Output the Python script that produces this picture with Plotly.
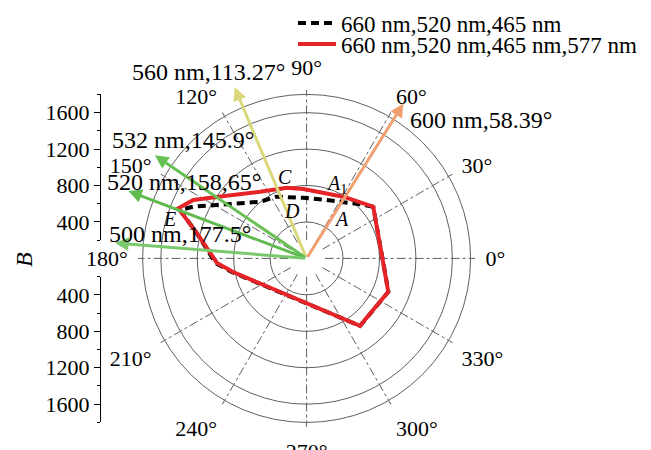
import numpy as np
import plotly.graph_objects as go

# ---------------- data ----------------
# black dashed gamut: 660 nm,520 nm,465 nm  (theta in degrees, r = B)
dash_theta = [37.8, 45.4, 71.0, 93.4, 115.9, 129.4, 145.9, 155.5, 159.1, 166.5, 183.0, 190.5, 308.4, 337.8, 37.8]
dash_r     = [926, 834, 678, 667, 753, 805, 1059, 1370, 1488, 1250, 1000, 830, 945, 970, 926]
# red solid gamut: 660 nm,520 nm,465 nm,577 nm
red_theta = [59.3, 37.8, 337.8, 308.4, 190.5, 182.9, 167.0, 158.7, 152.7, 141.9, 124.9, 105.7, 92.7, 59.3]
red_r     = [788, 926, 968, 943, 821, 985, 1235, 1512, 1399, 1115, 893, 806, 763, 788]

# wavelength direction arrows
arrow_names = ["560 nm,113.27°", "600 nm,58.39°", "532 nm,145.9°", "520 nm,158,65°", "500 nm,177.5°"]
arrow_theta = [112.8, 58.0, 145.8, 159.3, 175.4]
arrow_len   = [2040, 2005, 2014, 2091, 2108]
arrow_color = ["rgb(218,216,122)", "rgb(240,160,112)", "rgb(104,192,84)", "rgb(96,186,78)", "rgb(122,200,108)"]

legend_names = ["660 nm,520 nm,465 nm", "660 nm,520 nm,465 nm,577 nm"]
radial_major = [400, 800, 1200, 1600]
radial_minor = [200, 600, 1000, 1400]

# ---------------- layout geometry ----------------
W, H = 651, 450
CX, CY, R = 306.6, 258.4, 164.0
RMAX = 1800
K = R / RMAX  # px per unit
FONT = "Liberation Serif"

def px(x):
    return x / W

def py(y):
    return 1 - y / H

dom_x = [px(CX - R), px(CX + R)]
dom_y = [py(CY + R), py(CY - R)]

# cartesian overlay (same scale as polar) used for the arrows
XR = [-2200, 2200]
YR = [-1900, 2200]
cart_dom_x = [px(CX + XR[0] * K), px(CX + XR[1] * K)]
cart_dom_y = [py(CY - YR[0] * K), py(CY - YR[1] * K)]

fig = go.Figure()

# white centre disc (the grid does not reach the centre)
hole_t = np.linspace(0, 360, 73)
fig.add_trace(go.Scatterpolar(r=[200] * len(hole_t), theta=hole_t, mode="lines", fill="toself",
                              fillcolor="white", line=dict(width=0, color="white"),
                              subplot="polar2", showlegend=False, hoverinfo="skip"))

# gamut polygons
fig.add_trace(go.Scatterpolar(r=dash_r, theta=dash_theta, mode="lines", name=legend_names[0],
                              line=dict(color="black", width=4, dash="8px,5px"),
                              subplot="polar2", legend="legend"))
fig.add_trace(go.Scatterpolar(r=red_r, theta=red_theta, mode="lines", name=legend_names[1],
                              line=dict(color="rgb(230,36,40)", width=4),
                              subplot="polar2", legend="legend2"))
# label-only polar layer (needs a trace to exist)
fig.add_trace(go.Scatterpolar(r=[0], theta=[0], mode="markers", marker=dict(size=1, opacity=0),
                              subplot="polar3", showlegend=False, hoverinfo="skip"))

# left B axis (upper and lower halves)
fig.add_trace(go.Scatter(x=[0, 0], y=[200, 1800], mode="lines", line=dict(width=0),
                         showlegend=False, hoverinfo="skip", xaxis="x", yaxis="y"))
fig.add_trace(go.Scatter(x=[0, 0], y=[-1800, -200], mode="lines", line=dict(width=0),
                         showlegend=False, hoverinfo="skip", xaxis="x", yaxis="y2"))
# anchor trace for the arrow overlay
fig.add_trace(go.Scatter(x=[0], y=[0], mode="markers", marker=dict(size=1, opacity=0),
                         showlegend=False, hoverinfo="skip", xaxis="x3", yaxis="y3"))

tickfont = dict(family=FONT, size=22, color="black")
common_polar_radial = dict(range=[0, RMAX], showticklabels=False, ticks="", showline=False)
legend_common = dict(xanchor="left", yanchor="middle", bgcolor="rgba(0,0,0,0)",
                     font=dict(family=FONT, size=23, color="black"), itemwidth=38, borderwidth=0)

fig.update_layout(
    width=W, height=H,
    margin=dict(l=0, r=0, t=0, b=0),
    paper_bgcolor="white", plot_bgcolor="rgba(0,0,0,0)",
    font=dict(family=FONT, size=22, color="black"),
    polar=dict(
        domain=dict(x=dom_x, y=dom_y),
        bgcolor="white",
        radialaxis=dict(**common_polar_radial, tickvals=radial_minor, showgrid=True,
                        gridcolor="rgb(200,200,200)", griddash="dash", gridwidth=1),
        angularaxis=dict(tickmode="linear", tick0=0, dtick=15, showticklabels=False, ticks="",
                         showline=False, showgrid=True, gridcolor="rgb(200,200,200)",
                         griddash="dash", gridwidth=1),
    ),
    polar2=dict(
        domain=dict(x=dom_x, y=dom_y),
        bgcolor="rgba(0,0,0,0)",
        radialaxis=dict(**common_polar_radial, tickvals=radial_major, showgrid=True,
                        gridcolor="rgb(95,95,95)", gridwidth=1),
        angularaxis=dict(tickmode="linear", tick0=0, dtick=30,
                         showticklabels=False, ticks="outside", ticklen=4, tickcolor="rgb(95,95,95)",
                         showline=True, linecolor="rgb(95,95,95)", linewidth=1,
                         showgrid=True, gridcolor="rgb(95,95,95)", griddash="dashdot", gridwidth=1),
    ),
    polar3=dict(
        domain=dict(x=dom_x, y=dom_y),
        bgcolor="rgba(0,0,0,0)",
        radialaxis=dict(**common_polar_radial, showgrid=False),
        angularaxis=dict(tickmode="linear", tick0=0, dtick=30, ticksuffix="°",
                         showticklabels=True, ticks="outside", ticklen=10,
                         tickcolor="rgba(0,0,0,0)", showline=False, showgrid=False,
                         tickfont=tickfont),
    ),
    xaxis=dict(visible=False, domain=[0.98, 1.0], range=[-1, 1]),
    yaxis=dict(domain=[py(CY - R * 200 / RMAX), py(CY - R)], range=[200, 1800],
               anchor="free", position=px(100), side="left",
               tickvals=radial_major, ticks="outside", ticklen=6, tickcolor="black",
               showline=True, linecolor="black", linewidth=1, showgrid=False, zeroline=False,
               minor=dict(tickvals=[200, 600, 1000, 1400, 1800], ticks="outside", ticklen=3.5,
                          tickcolor="black", showgrid=False),
               tickfont=tickfont),
    yaxis2=dict(domain=[py(CY + R), py(CY + R * 200 / RMAX)], range=[-1800, -200],
                anchor="free", position=px(100), side="left",
                tickvals=[-v for v in radial_major], ticktext=[str(v) for v in radial_major],
                ticks="outside", ticklen=6, tickcolor="black",
                showline=True, linecolor="black", linewidth=1, showgrid=False, zeroline=False,
                minor=dict(tickvals=[-200, -600, -1000, -1400, -1800], ticks="outside", ticklen=3.5,
                           tickcolor="black", showgrid=False),
                tickfont=tickfont),
    xaxis3=dict(visible=False, domain=cart_dom_x, range=XR, anchor="y3", fixedrange=True),
    yaxis3=dict(visible=False, domain=cart_dom_y, range=YR, anchor="x3", fixedrange=True),
    legend=dict(x=px(293), y=py(23), **legend_common),
    legend2=dict(x=px(293), y=py(44), **legend_common),
    showlegend=True,
)

# arrows from the centre along each wavelength direction
tip_x = np.array(arrow_len) * np.cos(np.radians(arrow_theta))
tip_y = np.array(arrow_len) * np.sin(np.radians(arrow_theta))
for xt, yt, col in zip(tip_x, tip_y, arrow_color):
    fig.add_annotation(x=float(xt), y=float(yt), xref="x3", yref="y3",
                       ax=0, ay=0, axref="x3", ayref="y3", text="",
                       showarrow=True, arrowhead=2, arrowsize=0.9, arrowwidth=3,
                       arrowcolor=col, standoff=0, startstandoff=0)

# arrow labels
label_pos = [(130, 72), (408, 120), (110, 140), (105, 182), (107, 234)]
for nm, (lx, ly) in zip(arrow_names, label_pos):
    fig.add_annotation(text=nm, x=px(lx), y=py(ly), xref="paper", yref="paper",
                       xanchor="left", yanchor="middle", showarrow=False,
                       font=dict(family=FONT, size=24, color="black"))

# point letters
letters = [("<i>C</i>", 284.5, 177.5), ("<i>A</i><sub>1</sub>", 336.5, 184.5), ("<i>D</i>", 291.7, 210.7),
           ("<i>A</i>", 341.7, 219.3), ("<i>E</i>", 169.3, 218.8)]
for t, lx, ly in letters:
    fig.add_annotation(text=t, x=px(lx), y=py(ly), xref="paper", yref="paper",
                       xanchor="center", yanchor="middle", showarrow=False,
                       font=dict(family=FONT, size=20, color="black"))

# B axis title
fig.add_annotation(text="<i>B</i>", x=px(24), y=py(260), xref="paper", yref="paper",
                   xanchor="center", yanchor="middle", showarrow=False, textangle=-90,
                   font=dict(family=FONT, size=24, color="black"))

fig.write_html("out.html", config={"displayModeBar": False},
               post_script="document.body.style.margin='0px';")
